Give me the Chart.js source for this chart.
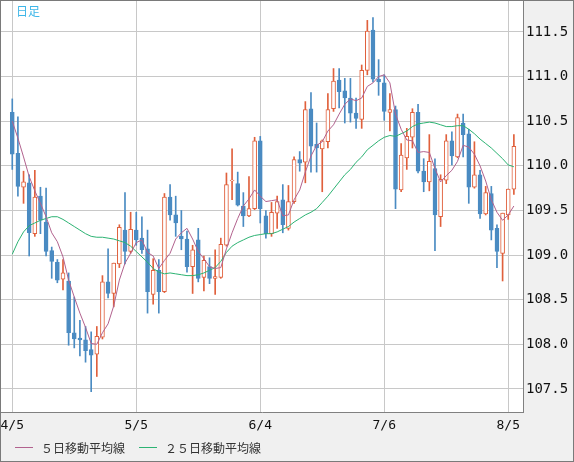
<!DOCTYPE html>
<html>
<head>
<meta charset="utf-8">
<title>日足</title>
<script src="https://cdn.jsdelivr.net/npm/chart.js"></script>
<style>
  html, body { margin: 0; padding: 0; background: #f0f0f0; }
  canvas { display: block; }
</style>
</head>
<body>
<canvas id="candleChart" width="574" height="462"></canvas>
<script>
// daily candles, 4/5 .. 8/6 (one per trading day)
const opens = [
  110.60, 110.14, 109.76, 109.81, 109.24, 109.66, 109.37, 109.05, 108.92, 108.73,
  108.71, 108.13, 108.07, 108.05, 107.94, 107.89, 108.08, 108.70, 108.57, 108.90,
  109.28, 109.04, 109.28, 109.19, 109.07, 108.56, 108.83, 108.59, 109.65, 109.45,
  109.21, 109.18, 108.87, 109.17, 108.75, 108.87, 108.74, 108.75, 109.11, 109.83,
  109.80, 109.55, 109.44, 109.52, 110.28, 109.44, 109.24, 109.47, 109.62, 109.30,
  109.60, 110.07, 110.04, 110.64, 110.24, 110.19, 110.27, 110.64, 110.96, 110.84,
  110.76, 110.59, 110.52, 111.07, 111.52, 110.97, 110.93, 110.60, 110.63, 109.73,
  110.09, 110.32, 110.60, 109.94, 109.82, 109.97, 109.43, 109.84, 110.28, 110.10,
  110.48, 110.36, 109.76, 109.90, 109.46, 109.69, 109.30, 109.02, 109.45, 109.74
];
const highs = [
  110.75, 110.55, 109.94, 109.90, 109.95, 109.76, 109.75, 109.09, 108.95, 108.95,
  108.80, 108.53, 108.27, 108.20, 108.14, 108.20, 108.77, 109.07, 108.91, 109.34,
  109.70, 109.48, 109.48, 109.43, 109.28, 108.96, 108.95, 109.69, 109.79, 109.66,
  109.50, 109.27, 109.11, 109.30, 108.99, 108.97, 109.06, 109.19, 109.92, 110.19,
  109.93, 109.70, 109.88, 110.32, 110.33, 109.50, 109.59, 109.66, 109.79, 109.78,
  110.10, 110.16, 110.72, 110.82, 110.48, 110.29, 110.81, 111.09, 111.09, 110.98,
  110.98, 110.76, 111.13, 111.63, 111.66, 111.19, 111.02, 110.81, 110.67, 110.25,
  110.42, 110.64, 110.69, 110.08, 110.35, 110.08, 109.90, 110.35, 110.38, 110.58,
  110.58, 110.41, 110.27, 109.95, 109.77, 109.77, 109.34, 109.47, 109.74, 110.35
];
const lows = [
  109.96, 109.66, 109.58, 108.99, 109.21, 109.24, 108.99, 108.74, 108.69, 108.61,
  107.99, 107.96, 107.87, 107.80, 107.47, 107.64, 108.06, 108.52, 108.42, 108.86,
  108.90, 109.02, 109.11, 109.02, 108.35, 108.45, 108.35, 108.58, 109.39, 109.21,
  109.06, 108.81, 108.57, 108.70, 108.60, 108.68, 108.56, 108.74, 109.10, 109.62,
  109.55, 109.32, 109.43, 109.51, 109.36, 109.19, 109.21, 109.30, 109.25, 109.28,
  109.58, 109.94, 109.81, 109.93, 109.93, 109.71, 110.20, 110.61, 110.65, 110.48,
  110.49, 110.42, 110.42, 111.02, 110.94, 110.79, 110.51, 110.39, 109.52, 109.71,
  109.96, 110.20, 109.92, 109.71, 109.72, 109.05, 109.32, 109.80, 110.01, 110.09,
  110.10, 109.58, 109.75, 109.41, 109.45, 109.17, 108.86, 108.71, 109.40, 109.68
];
const closes = [
  110.13, 109.77, 109.82, 109.25, 109.65, 109.39, 109.04, 108.93, 108.72, 108.80,
  108.13, 108.06, 108.05, 107.93, 107.88, 108.09, 108.70, 108.57, 108.91, 109.31,
  109.04, 109.29, 109.17, 109.06, 108.59, 108.83, 108.59, 109.65, 109.45, 109.36,
  109.18, 108.87, 109.06, 108.74, 108.94, 108.74, 108.76, 109.12, 109.79, 109.84,
  109.56, 109.44, 109.52, 110.28, 109.52, 109.24, 109.48, 109.60, 109.34, 109.60,
  110.07, 110.03, 110.63, 110.22, 110.20, 110.28, 110.63, 110.95, 110.83, 110.76,
  110.59, 110.53, 111.07, 111.51, 110.97, 110.94, 110.61, 110.63, 109.74, 110.12,
  110.33, 110.60, 109.94, 109.82, 110.05, 109.45, 109.85, 110.28, 110.11, 110.54,
  110.35, 109.76, 109.90, 109.46, 109.70, 109.28, 109.04, 109.47, 109.74, 110.22
];
// moving average lines
const ma5 = [
  110.50, 110.31, 110.10, 109.88, 109.72, 109.58, 109.43, 109.25, 109.15, 108.98,
  108.72, 108.53, 108.35, 108.19, 108.01, 108.00, 108.13, 108.23, 108.43, 108.72,
  108.91, 109.02, 109.14, 109.17, 109.03, 108.99, 108.85, 108.94, 109.02, 109.18,
  109.25, 109.30, 109.18, 109.04, 108.96, 108.87, 108.85, 108.86, 109.07, 109.25,
  109.41, 109.55, 109.63, 109.73, 109.66, 109.60, 109.61, 109.62, 109.44, 109.45,
  109.62, 109.73, 109.93, 110.11, 110.23, 110.27, 110.39, 110.46, 110.58, 110.69,
  110.75, 110.73, 110.76, 110.89, 110.93, 111.00, 111.02, 110.93, 110.58, 110.41,
  110.29, 110.28, 110.15, 110.16, 110.15, 109.97, 109.82, 109.89, 109.95, 110.05,
  110.23, 110.21, 110.13, 110.00, 109.83, 109.62, 109.48, 109.39, 109.45, 109.55
];
const ma25 = [
  109.01, 109.15, 109.26, 109.33, 109.36, 109.39, 109.41, 109.43, 109.43, 109.40,
  109.36, 109.32, 109.28, 109.24, 109.21, 109.20, 109.20, 109.19, 109.18, 109.16,
  109.14, 109.10, 109.04, 108.98, 108.92, 108.85, 108.81, 108.79, 108.80, 108.79,
  108.78, 108.77, 108.77, 108.78, 108.80, 108.83, 108.86, 108.93, 109.03, 109.10,
  109.14, 109.17, 109.20, 109.22, 109.23, 109.24, 109.24, 109.26, 109.29, 109.32,
  109.37, 109.41, 109.45, 109.48, 109.52, 109.59, 109.66, 109.74, 109.82, 109.90,
  109.96, 110.04, 110.10, 110.18, 110.23, 110.28, 110.32, 110.34, 110.33, 110.36,
  110.39, 110.44, 110.47, 110.48, 110.49, 110.48, 110.46, 110.44, 110.44, 110.45,
  110.45, 110.41, 110.36, 110.30, 110.25, 110.20, 110.14, 110.08, 110.01, 109.99
];
const dateTicks = [0, 22, 44, 66, 88];
const dateLabels = ['4/5', '5/5', '6/4', '7/6', '8/5'];
const priceTicks = [107.5, 108.0, 108.5, 109.0, 109.5, 110.0, 110.5, 111.0, 111.5];

const UP = '#e0603c';
const DOWN = '#4a8bc2';
const MA5_COLOR = '#b2628e';
const MA25_COLOR = '#2cb373';

const isUp = closes.map((c, i) => c >= opens[i]);

const chartFrame = {
  id: 'chartFrame',
  beforeDraw(chart) {
    const { ctx, chartArea: a } = chart;
    ctx.save();
    ctx.fillStyle = '#f0f0f0';
    ctx.fillRect(0, 0, chart.width, chart.height);
    ctx.fillStyle = '#ffffff';
    ctx.fillRect(a.left, a.top, a.right - a.left, a.bottom - a.top);
    ctx.restore();
  },
  afterDraw(chart) {
    const ctx = chart.ctx;
    ctx.save();
    ctx.strokeStyle = '#7a7a7a';
    ctx.lineWidth = 1;
    ctx.strokeRect(0.5, 0.5, chart.width - 1, chart.height - 1);

    ctx.font = '12px "Noto Sans CJK JP"';
    ctx.textBaseline = 'middle';
    ctx.fillStyle = '#3db6e8';
    ctx.fillText('日足', 16, 11);

    // legend for the two average lines
    const items = [
      { text: chart.data.datasets[0].label, color: MA5_COLOR, x: 15 },
      { text: chart.data.datasets[1].label, color: MA25_COLOR, x: 139 }
    ];
    items.forEach(it => {
      ctx.strokeStyle = it.color;
      ctx.beginPath();
      ctx.moveTo(it.x, 447.5);
      ctx.lineTo(it.x + 18, 447.5);
      ctx.stroke();
      ctx.fillStyle = '#333333';
      ctx.fillText(it.text, it.x + 26, 448);
    });
    ctx.restore();
  }
};

new Chart(document.getElementById('candleChart'), {
  type: 'bar',
  data: {
    datasets: [
      {
        type: 'line',
        label: '５日移動平均線',
        data: ma5.map((v, i) => ({ x: i, y: v })),
        borderColor: MA5_COLOR,
        borderWidth: 1,
        pointRadius: 0,
        order: 0
      },
      {
        type: 'line',
        label: '２５日移動平均線',
        data: ma25.map((v, i) => ({ x: i, y: v })),
        borderColor: MA25_COLOR,
        borderWidth: 1,
        pointRadius: 0,
        order: 1
      },
      {
        label: 'body',
        data: opens.map((o, i) => ({ x: i, y: [o, closes[i]] })),
        backgroundColor: isUp.map(u => u ? '#ffffff' : DOWN),
        borderColor: isUp.map(u => u ? UP : DOWN),
        borderWidth: 1,
        borderSkipped: false,
        barThickness: 4,
        grouped: false,
        order: 2
      },
      {
        label: 'wick',
        data: lows.map((l, i) => ({ x: i, y: [l, highs[i]] })),
        backgroundColor: isUp.map(u => u ? UP : DOWN),
        borderWidth: 0,
        barThickness: 1,
        grouped: false,
        order: 3
      }
    ]
  },
  options: {
    responsive: false,
    animation: false,
    events: [],
    layout: { padding: { left: 1, top: 1, right: 1, bottom: 1 } },
    plugins: {
      legend: { display: false },
      tooltip: { enabled: false }
    },
    scales: {
      x: {
        type: 'linear',
        min: -2.0,
        max: 90.62,
        offset: false,
        grid: { color: '#c8c8c8', drawTicks: false, offset: false },
        border: { display: true, color: '#808080' },
        afterBuildTicks: s => { s.ticks = dateTicks.map(v => ({ value: v })); },
        afterFit: s => { s.height = 49; s.paddingLeft = 0; s.paddingRight = 0; },
        ticks: {
          autoSkip: false,
          maxRotation: 0,
          padding: 6,
          color: '#111',
          font: { family: 'DejaVu Sans Mono', size: 13 },
          callback: (v, i) => dateLabels[i]
        }
      },
      y: {
        position: 'right',
        min: 107.242,
        max: 111.847,
        grid: { color: '#c8c8c8', drawTicks: false },
        border: { display: true, color: '#808080' },
        afterBuildTicks: s => { s.ticks = priceTicks.map(v => ({ value: v })); },
        afterFit: s => { s.width = 50; s.paddingTop = 0; s.paddingBottom = 0; },
        ticks: {
          padding: 3,
          color: '#111',
          font: { family: 'DejaVu Sans Mono', size: 14 },
          callback: v => v.toFixed(1)
        }
      }
    }
  },
  plugins: [chartFrame]
});
</script>
</body>
</html>
